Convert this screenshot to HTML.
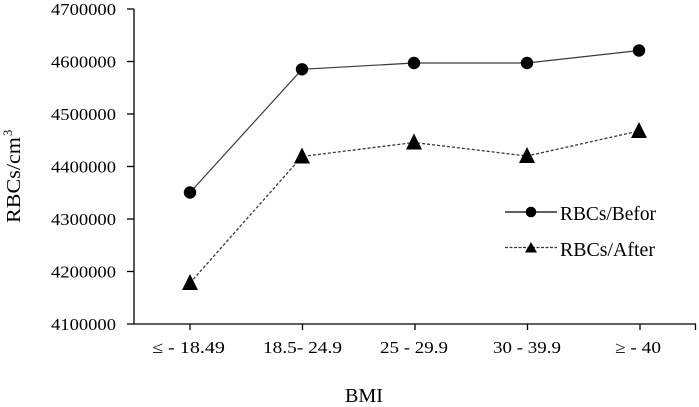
<!DOCTYPE html>
<html>
<head>
<meta charset="utf-8">
<style>
  html, body { margin: 0; padding: 0; background: #ffffff; }
  body { width: 699px; height: 407px; overflow: hidden; }
  svg { display: block; }
  text { font-family: "Liberation Serif", "DejaVu Serif", serif; fill: #000; }
</style>
</head>
<body>
<svg width="699" height="407" viewBox="0 0 699 407" xmlns="http://www.w3.org/2000/svg">
  <rect x="0" y="0" width="699" height="407" fill="#ffffff"/>

  <!-- Y axis -->
  <line x1="134" y1="9" x2="134" y2="324.5" stroke="#000" stroke-width="1.3"/>
  <g stroke="#000" stroke-width="1.3">
    <line x1="127" y1="9" x2="134" y2="9"/>
    <line x1="127" y1="61.5" x2="134" y2="61.5"/>
    <line x1="127" y1="114" x2="134" y2="114"/>
    <line x1="127" y1="166.5" x2="134" y2="166.5"/>
    <line x1="127" y1="219" x2="134" y2="219"/>
    <line x1="127" y1="271.5" x2="134" y2="271.5"/>
    <line x1="127" y1="324" x2="134" y2="324"/>
  </g>
  <g font-size="16.5">
    <text x="51" y="15" textLength="65" lengthAdjust="spacingAndGlyphs">4700000</text>
    <text x="51" y="67.5" textLength="65" lengthAdjust="spacingAndGlyphs">4600000</text>
    <text x="51" y="120" textLength="65" lengthAdjust="spacingAndGlyphs">4500000</text>
    <text x="51" y="172.5" textLength="65" lengthAdjust="spacingAndGlyphs">4400000</text>
    <text x="51" y="225" textLength="65" lengthAdjust="spacingAndGlyphs">4300000</text>
    <text x="51" y="277.5" textLength="65" lengthAdjust="spacingAndGlyphs">4200000</text>
    <text x="51" y="330" textLength="65" lengthAdjust="spacingAndGlyphs">4100000</text>
  </g>

  <!-- X axis -->
  <line x1="134" y1="324" x2="696" y2="324" stroke="#000" stroke-width="1.3"/>
  <g stroke="#000" stroke-width="1.3">
    <line x1="190" y1="324" x2="190" y2="330"/>
    <line x1="302.5" y1="324" x2="302.5" y2="330"/>
    <line x1="415" y1="324" x2="415" y2="330"/>
    <line x1="527.5" y1="324" x2="527.5" y2="330"/>
    <line x1="640" y1="324" x2="640" y2="330"/>
    <line x1="695.5" y1="324" x2="695.5" y2="330"/>
  </g>
  <g font-size="16.5">
    <text x="152" y="353" textLength="73" lengthAdjust="spacingAndGlyphs">≤ - 18.49</text>
    <text x="263" y="353" textLength="79" lengthAdjust="spacingAndGlyphs">18.5- 24.9</text>
    <text x="380" y="353" textLength="68" lengthAdjust="spacingAndGlyphs">25 - 29.9</text>
    <text x="493" y="353" textLength="68" lengthAdjust="spacingAndGlyphs">30 - 39.9</text>
    <text x="615" y="353" textLength="46" lengthAdjust="spacingAndGlyphs">≥ - 40</text>
  </g>

  <!-- Axis titles -->
  <text x="345" y="402" font-size="19.5" textLength="38" lengthAdjust="spacingAndGlyphs">BMI</text>
  <g transform="translate(20,223) rotate(-90)">
    <text x="0" y="0" font-size="19.5" textLength="86" lengthAdjust="spacingAndGlyphs">RBCs/cm</text>
    <text x="87" y="-8" font-size="12.5">3</text>
  </g>

  <!-- Series: Before (solid, circles) -->
  <polyline points="190,192.5 302,69.3 414,63 527,63 639,50.5" fill="none" stroke="#3a3a3a" stroke-width="1.2"/>
  <g fill="#000">
    <circle cx="190" cy="192.5" r="6.2"/>
    <circle cx="302" cy="69.3" r="6.2"/>
    <circle cx="414" cy="63" r="6.2"/>
    <circle cx="527" cy="63" r="6.2"/>
    <circle cx="639" cy="50.5" r="6.2"/>
  </g>

  <!-- Series: After (dotted, triangles) -->
  <polyline points="190,283 302,156.5 414,142.5 527,156 639,131" fill="none" stroke="#3a3a3a" stroke-width="1.3" stroke-dasharray="3,2"/>
  <g fill="#000">
    <polygon points="182,290 198,290 190,274"/>
    <polygon points="294,163.5 310,163.5 302,147.5"/>
    <polygon points="406,149.5 422,149.5 414,133.5"/>
    <polygon points="519,163 535,163 527,147"/>
    <polygon points="631,138 647,138 639,122"/>
  </g>

  <!-- Legend -->
  <line x1="505" y1="212" x2="557" y2="212" stroke="#000" stroke-width="1.2"/>
  <circle cx="531" cy="212" r="5.3" fill="#000"/>
  <text x="560" y="220" font-size="19.5" textLength="96" lengthAdjust="spacingAndGlyphs">RBCs/Befor</text>

  <line x1="505" y1="247.5" x2="557" y2="247.5" stroke="#3a3a3a" stroke-width="1.2" stroke-dasharray="3,1.5"/>
  <polygon points="525,252.5 537,252.5 531,242" fill="#000"/>
  <text x="560" y="256" font-size="19.5" textLength="95" lengthAdjust="spacingAndGlyphs">RBCs/After</text>
</svg>
</body>
</html>
